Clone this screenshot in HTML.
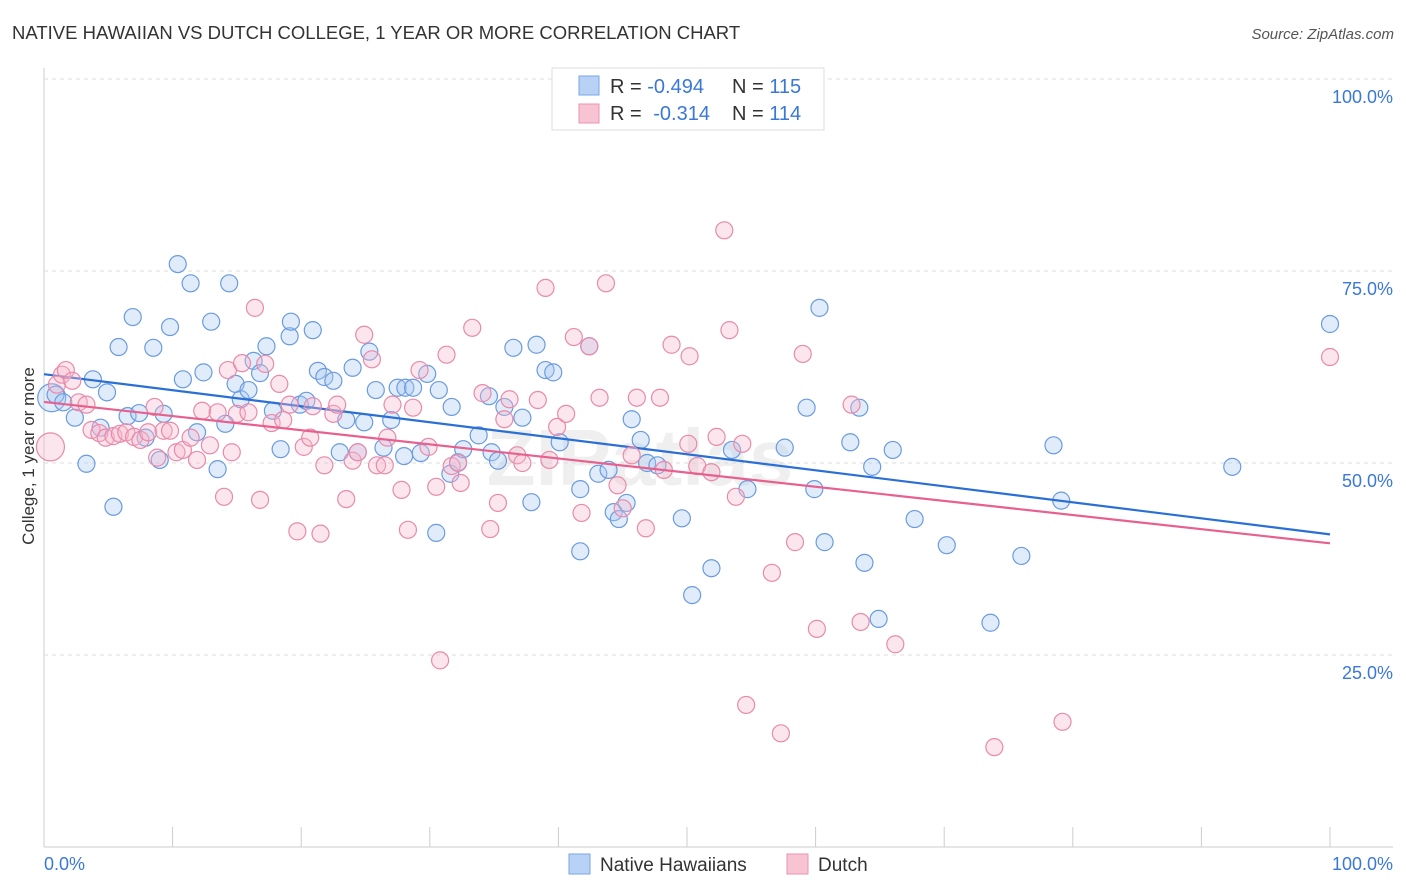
<!DOCTYPE html>
<html><head><meta charset="utf-8"><style>
body{margin:0;background:#fff;font-family:"Liberation Sans",sans-serif;}
svg{display:block}
</style></head><body>
<svg id="c" width="1406" height="892" xmlns="http://www.w3.org/2000/svg">
<text x="12" y="39" font-size="18.5" fill="#333">NATIVE HAWAIIAN VS DUTCH COLLEGE, 1 YEAR OR MORE CORRELATION CHART</text>
<text x="1394" y="39" font-size="15" fill="#555" font-style="italic" text-anchor="end">Source: ZipAtlas.com</text>
<text x="640" y="485" font-size="80" fill="#000" opacity="0.06" font-weight="bold" text-anchor="middle">ZIPatlas</text>
<text transform="translate(34,456) rotate(-90)" font-size="17" fill="#333" text-anchor="middle">College, 1 year or more</text>
<g id="grid"></g><g id="marks"></g>
<g>
<rect x="552" y="68" width="272" height="62" fill="#fff" stroke="#ddd"/>
<rect x="579" y="76" width="20" height="19" fill="#b8d2f5" stroke="#7aa6e6"/>
<rect x="579" y="104" width="20" height="19" fill="#f8c4d4" stroke="#eb93b0"/>
<text x="610" y="93" font-size="20" fill="#333">R = <tspan fill="#3a78d8">-0.494</tspan></text>
<text x="732" y="93" font-size="20" fill="#333">N = <tspan fill="#3a78d8">115</tspan></text>
<text x="610" y="120" font-size="20" fill="#333">R = <tspan fill="#3a78d8" dx="6">-0.314</tspan></text>
<text x="732" y="120" font-size="20" fill="#333">N = <tspan fill="#3a78d8">114</tspan></text>
</g>
<g>
<rect x="569" y="854" width="21" height="20" fill="#b8d2f5" stroke="#7aa6e6"/>
<text x="600" y="871" font-size="19" fill="#333">Native Hawaiians</text>
<rect x="787" y="854" width="21" height="20" fill="#f8c4d4" stroke="#eb93b0"/>
<text x="818" y="871" font-size="19" fill="#333">Dutch</text>
</g>
</svg>
<script>
const blueX=[0.6,0.9,1.5,2.4,3.3,3.8,4.4,4.9,5.4,5.8,6.5,6.9,7.4,7.9,8.5,9.0,9.3,9.8,10.4,10.8,11.4,11.9,12.4,13.0,13.5,14.1,14.4,14.9,15.3,15.9,16.3,16.8,17.3,17.8,18.4,19.1,19.2,19.9,20.4,20.9,21.3,21.8,22.5,23.0,23.5,24.0,24.4,24.9,25.3,25.8,26.4,27.0,27.5,28.0,28.1,28.7,29.3,29.8,30.5,30.7,31.6,31.7,32.2,32.6,33.8,34.6,34.8,35.3,35.8,36.5,37.2,37.9,38.3,39.0,39.6,40.1,41.7,41.7,42.4,43.1,43.9,44.3,44.7,45.3,45.7,46.4,46.9,47.7,49.6,50.4,51.9,53.5,54.7,57.6,59.3,59.9,60.3,60.7,62.7,63.4,63.8,64.4,64.9,66.0,67.7,70.2,73.6,76.0,78.5,79.1,92.4,100];
const blueY=[58.5,58.9,57.9,55.9,49.9,60.9,54.6,59.2,44.3,65.1,56.1,69.0,56.5,53.3,65.0,50.4,56.4,67.7,75.9,60.9,73.4,54.0,61.8,68.4,49.2,55.1,73.4,60.3,58.3,59.5,63.3,61.7,65.2,56.8,51.8,66.5,68.4,57.6,58.1,67.3,62.0,61.2,60.7,51.4,55.6,62.4,51.4,55.3,64.5,59.5,52.0,55.6,59.8,50.9,59.8,59.8,51.3,61.6,40.9,59.5,48.6,57.3,50.1,51.8,53.6,58.7,51.4,50.3,57.3,65.0,55.9,44.9,65.4,62.1,61.8,52.7,46.6,38.5,65.2,48.6,49.1,43.6,42.7,44.8,55.7,53.0,50.0,49.7,42.8,32.8,36.3,51.7,46.6,52.0,57.2,46.6,70.2,39.7,52.7,57.2,37.0,49.5,29.7,51.7,42.7,39.3,29.2,37.9,52.3,45.1,49.5,68.1];
const pinkX=[0.5,1.0,1.4,1.7,2.2,2.7,3.3,3.7,4.3,4.8,5.4,5.9,6.4,7.0,7.5,8.1,8.6,8.8,9.3,9.8,10.3,10.8,11.4,11.9,12.3,12.9,13.5,14.0,14.3,14.6,15.0,15.4,15.9,16.4,16.8,17.2,17.7,18.3,18.6,19.1,19.7,20.2,20.7,20.9,21.5,21.8,22.5,22.8,23.5,24.0,24.4,24.9,25.5,25.9,26.5,26.7,27.1,27.8,28.3,28.7,29.2,29.9,30.5,30.8,31.3,31.7,32.2,32.4,33.3,34.1,34.7,35.3,35.8,36.2,36.8,37.2,38.4,39.0,39.3,39.9,40.6,41.2,41.8,42.4,43.2,43.7,44.6,45.0,45.7,46.1,46.8,47.9,48.2,48.8,50.1,50.2,50.8,51.9,52.3,52.9,53.3,53.8,54.3,54.6,56.6,57.3,58.4,59.0,60.1,62.8,63.5,66.2,73.9,79.2,100];
const pinkY=[52.1,60.2,61.5,62.1,60.7,57.9,57.6,54.3,53.9,53.3,53.5,53.8,54.0,53.4,53.0,54.0,57.3,50.7,54.2,54.2,51.4,51.7,53.3,50.4,56.8,52.3,56.6,45.6,62.1,51.4,56.4,63.0,56.6,70.2,45.2,62.9,55.2,60.3,55.6,57.6,41.1,52.1,53.3,57.4,40.8,49.7,56.4,57.6,45.3,50.3,51.4,66.7,63.5,49.7,49.7,53.3,57.6,46.5,41.3,57.2,62.1,52.1,46.9,24.3,64.1,49.6,50.0,47.4,67.6,59.1,41.4,44.8,55.7,58.3,51.0,50.0,58.2,72.8,50.4,54.7,56.4,66.4,43.5,65.2,58.5,73.4,47.1,44.1,51.0,58.5,41.5,58.5,49.1,65.4,52.5,63.9,49.6,48.8,53.4,80.3,67.3,45.6,52.5,18.5,35.7,14.8,39.7,64.2,28.4,57.6,29.3,26.4,13.0,16.3,63.8];
const yTicks=[25,50,75,100];
const yTickLabels=["25.0%","50.0%","75.0%","100.0%"];
const xTicks=[0,10,20,30,40,50,60,70,80,90,100];

const NS="http://www.w3.org/2000/svg";
const X=v=>44+v*12.86, Y=v=>847-v*7.68;
function mk(t,a,p){const e=document.createElementNS(NS,t);for(const k in a)e.setAttribute(k,a[k]);p.appendChild(e);return e;}
const grid=document.getElementById('grid'), marks=document.getElementById('marks');
mk('line',{x1:44,y1:68,x2:44,y2:847,stroke:'#ccc'},grid);
mk('line',{x1:44,y1:847,x2:1393,y2:847,stroke:'#ccc'},grid);
mk('line',{x1:44,y1:79,x2:1393,y2:79,stroke:'#ddd','stroke-dasharray':'4,4'},grid);
yTicks.forEach((t,i)=>{
  const g=mk('line',{x1:44,y1:Y(t),x2:1393,y2:Y(t),stroke:'#ddd','stroke-dasharray':'4,4'},grid);
  
  
  const tx=mk('text',{x:1393,y:Y(t)+24,'font-size':18,fill:'#3a78d8','text-anchor':'end'},grid);
  tx.textContent=yTickLabels[i];
  
  
});
xTicks.forEach(t=>{
  const l=mk('line',{x1:X(t),y1:827,x2:X(t),y2:847,stroke:'#ccc'},grid);
  
  
});
const x0=mk('text',{x:44,y:870,'font-size':18,fill:'#3a78d8'},grid);x0.textContent='0.0%';


const x1=mk('text',{x:1393,y:870,'font-size':18,fill:'#3a78d8','text-anchor':'end'},grid);x1.textContent='100.0%';



function series(xs,ys,fill,stroke,line,name){
  xs.forEach((x,i)=>{
    const r=i===0?14:8.5;
    const c=mk('circle',{cx:X(x),cy:Y(ys[i]),r:r,fill:fill,'fill-opacity':0.35,stroke:stroke,'stroke-width':1.2},marks);
    
    
  });
  const n=xs.length;let mx=0,my=0;xs.forEach((x,i)=>{mx+=x;my+=ys[i];});mx/=n;my/=n;
  let sxy=0,sxx=0;xs.forEach((x,i)=>{sxy+=(x-mx)*(ys[i]-my);sxx+=(x-mx)*(x-mx);});
  const b=sxy/sxx,a=my-b*mx;
  const l=mk('line',{x1:X(0),y1:Y(a),x2:X(100),y2:Y(a+b*100),stroke:line,'stroke-width':2.2},marks);
  
  
}
series(blueX,blueY,'#a9c8f0','#6a9be0','#2a6fd6','native-hawaiian');
series(pinkX,pinkY,'#f6b8cc','#e88aab','#e8608e','dutch');
</script>
</body></html>
